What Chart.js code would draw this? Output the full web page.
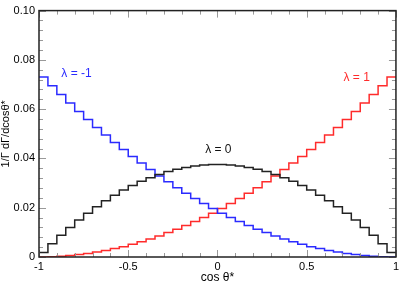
<!DOCTYPE html>
<html lang="en">
<head>
    <meta charset="UTF-8">
    <title>Helicity angular distributions</title>
    <script src="https://cdn.jsdelivr.net/npm/chart.js@4.4.1/dist/chart.umd.min.js"></script>
    <style>
        body {
            margin: 0;
            background: #fff;
        }
        #wrap {
            width: 402px;
            height: 284px;
        }
    </style>
</head>
<body>
    <div id="wrap">
        <canvas id="helChart" width="402" height="284"></canvas>
    </div>

    <script>
        // bin layout: 40 bins of width 0.05 over cos theta* in [-1, 1]
        const binStart = -1;
        const binWidth = 0.05;

        // lambda = -1 (left to right)
        const lamMinus = [
            0.0731, 0.0695, 0.0659, 0.0625, 0.0591, 0.0558, 0.0526, 0.0495, 0.0465, 0.0436,
            0.0408, 0.0381, 0.0355, 0.0329, 0.0305, 0.0281, 0.0259, 0.0237, 0.0217, 0.0197,
            0.0178, 0.0160, 0.0144, 0.0128, 0.0113, 0.0099, 0.0085, 0.0073, 0.0062, 0.0052,
            0.0042, 0.0034, 0.0026, 0.0020, 0.0014, 0.0010, 0.0006, 0.0003, 0.0001, 0.0000
        ];

        // lambda = 0 (black)
        const lamZero = [
            0.0018, 0.0054, 0.0088, 0.0120, 0.0150, 0.0178, 0.0204, 0.0228, 0.0251, 0.0272,
            0.0290, 0.0307, 0.0322, 0.0335, 0.0347, 0.0356, 0.0363, 0.0369, 0.0373, 0.0375,
            0.0375, 0.0373, 0.0369, 0.0363, 0.0356, 0.0347, 0.0335, 0.0322, 0.0307, 0.0290,
            0.0272, 0.0251, 0.0228, 0.0204, 0.0178, 0.0150, 0.0120, 0.0088, 0.0054, 0.0018
        ];

        // lambda = 1 (red)
        const lamPlus = [
            0.0000, 0.0001, 0.0003, 0.0006, 0.0010, 0.0014, 0.0020, 0.0026, 0.0034, 0.0042,
            0.0052, 0.0062, 0.0073, 0.0085, 0.0099, 0.0113, 0.0128, 0.0144, 0.0160, 0.0178,
            0.0197, 0.0217, 0.0237, 0.0259, 0.0281, 0.0305, 0.0329, 0.0355, 0.0381, 0.0408,
            0.0436, 0.0465, 0.0495, 0.0526, 0.0558, 0.0591, 0.0625, 0.0659, 0.0695, 0.0731
        ];

        const xTickLabels = ['-1', '-0.5', '0', '0.5', '1'];
        const yTickLabels = ['0', '0.02', '0.04', '0.06', '0.08', '0.10'];

        const seriesNames = ['\u03bb = -1', '\u03bb = 0', '\u03bb = 1'];

        // turn per-bin contents into step points (left edges + closing right edge)
        function toSteps(vals) {
            const pts = vals.map((v, i) => ({ x: binStart + i * binWidth, y: v }));
            pts.push({ x: binStart + vals.length * binWidth, y: vals[vals.length - 1] });
            return pts;
        }

        const FONT = '"Liberation Sans", Arial, Helvetica, sans-serif';

        // labels next to the curves, in data coords
        const curveLabels = [
            { text: seriesNames[0], x: -0.79, y: 0.0744, color: '#2b2bff' },
            { text: seriesNames[1], x: 0.005, y: 0.0437, color: '#111' },
            { text: seriesNames[2], x: 0.78, y: 0.0728, color: '#ff2b2b' }
        ];

        // frame, inward ticks on all four sides, curve labels
        const framePlugin = {
            id: 'frame',
            afterDatasetsDraw(chart) {
                const { ctx, chartArea: a, scales } = chart;
                const xs = scales.x, ys = scales.y;
                ctx.save();

                ctx.strokeStyle = '#999';
                ctx.lineWidth = 1;
                const tick = (x1, y1, x2, y2) => {
                    ctx.beginPath();
                    ctx.moveTo(x1, y1);
                    ctx.lineTo(x2, y2);
                    ctx.stroke();
                };
                for (let i = 0; i <= 20; i++) {
                    const v = -1 + i * 0.1;
                    const px = Math.round(xs.getPixelForValue(v)) + 0.5;
                    const len = (i % 5 === 0) ? 7 : 4;
                    tick(px, a.bottom, px, a.bottom - len);
                    tick(px, a.top, px, a.top + len);
                }
                for (let i = 0; i <= 25; i++) {
                    const v = i * 0.004;
                    const py = Math.round(ys.getPixelForValue(v)) + 0.5;
                    const len = (i % 5 === 0) ? 7 : 4;
                    tick(a.left, py, a.left + len, py);
                    tick(a.right, py, a.right - len, py);
                }

                ctx.strokeStyle = '#222';
                ctx.lineWidth = 1.5;
                ctx.strokeRect(a.left, a.top, a.right - a.left, a.bottom - a.top);

                ctx.font = '12px ' + FONT;
                ctx.textAlign = 'center';
                ctx.textBaseline = 'middle';
                curveLabels.forEach(l => {
                    ctx.fillStyle = l.color;
                    ctx.fillText(l.text, xs.getPixelForValue(l.x), ys.getPixelForValue(l.y));
                });
                ctx.restore();
            }
        };

        const lineStyle = {
            borderWidth: 1.5,
            pointRadius: 0,
            stepped: 'before',
            fill: false
        };

        new Chart(document.getElementById('helChart'), {
            type: 'line',
            data: {
                datasets: [
                    Object.assign({ label: seriesNames[1], data: toSteps(lamZero), borderColor: '#222' }, lineStyle),
                    Object.assign({ label: seriesNames[0], data: toSteps(lamMinus), borderColor: '#2b2bff' }, lineStyle),
                    Object.assign({ label: seriesNames[2], data: toSteps(lamPlus), borderColor: '#ff2b2b' }, lineStyle)
                ]
            },
            options: {
                responsive: false,
                animation: false,
                layout: {
                    autoPadding: false,
                    padding: { top: 5, right: 3, left: 0, bottom: 0 }
                },
                plugins: {
                    legend: { display: false },
                    tooltip: { enabled: false }
                },
                scales: {
                    x: {
                        type: 'linear',
                        min: -1,
                        max: 1,
                        grid: { display: false, drawTicks: false },
                        border: { display: false },
                        ticks: {
                            stepSize: 0.5,
                            padding: 3,
                            maxRotation: 0,
                            color: '#000',
                            font: { family: FONT, size: 11 },
                            callback: (v, i) => xTickLabels[i]
                        },
                        title: {
                            display: true,
                            text: 'cos \u03b8*',
                            color: '#000',
                            font: { family: FONT, size: 12, lineHeight: 1 },
                            padding: { top: 0, bottom: 0 }
                        },
                        afterFit: s => { s.height = 27; }
                    },
                    y: {
                        min: 0,
                        max: 0.1,
                        grid: { display: false, drawTicks: false },
                        border: { display: false },
                        ticks: {
                            stepSize: 0.02,
                            padding: 4,
                            color: '#000',
                            font: { family: FONT, size: 11 },
                            callback: (v, i) => yTickLabels[i]
                        },
                        title: {
                            display: true,
                            text: '1/\u0393 d\u0393/dcos\u03b8*',
                            color: '#000',
                            font: { family: FONT, size: 11, lineHeight: 1 },
                            padding: { top: 0, bottom: 0 }
                        },
                        afterFit: s => { s.width = 39; }
                    }
                }
            },
            plugins: [framePlugin]
        });
    </script>
</body>
</html>
